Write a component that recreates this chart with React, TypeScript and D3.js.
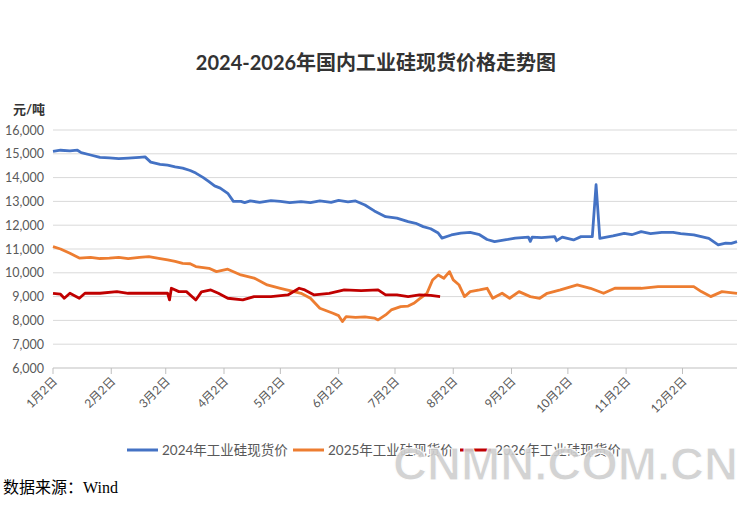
import React from 'react';
import * as d3 from 'd3';

// 2024 series
const dates2024 = [
  '01-02', '01-06', '01-11', '01-15', '01-17', '01-22', '01-27', '02-01', '02-06', '02-11',
  '02-17', '02-20', '02-23', '02-28', '03-03', '03-07', '03-11', '03-15', '03-18', '03-22',
  '03-25', '03-28', '03-31', '04-04', '04-07', '04-11', '04-13', '04-16', '04-21', '04-27',
  '05-02', '05-07', '05-13', '05-18', '05-23', '05-29', '06-02', '06-07', '06-11', '06-16',
  '06-21', '06-27', '07-03', '07-09', '07-13', '07-17', '07-21', '07-25', '07-27', '08-01',
  '08-06', '08-11', '08-16', '08-20', '08-24', '08-31', '09-04', '09-11', '09-12', '09-13',
  '09-18', '09-25', '09-26', '09-29', '10-05', '10-09', '10-15', '10-17', '10-19', '10-26',
  '11-01', '11-05', '11-10', '11-15', '11-21', '11-27', '12-01', '12-08', '12-12', '12-16',
  '12-21', '12-25', '12-28', '12-31',
];
const price2024 = [
  15100, 15150, 15120, 15150, 15050, 14950, 14850, 14830, 14800, 14820,
  14850, 14870, 14650, 14560, 14520, 14450, 14400, 14300, 14190, 14000,
  13830, 13650, 13560, 13340, 13000, 13000, 12950, 13020, 12960, 13030,
  13000, 12950, 12990, 12950, 13020, 12960, 13040, 12980, 13020, 12850,
  12600, 12360, 12300, 12150, 12080, 11940, 11850, 11670, 11460, 11590,
  11670, 11700, 11600, 11400, 11310, 11400, 11460, 11500, 11320, 11500,
  11480, 11520, 11350, 11500, 11380, 11520, 11520, 13700, 11450, 11550,
  11660, 11600, 11730, 11650, 11700, 11700, 11650, 11590, 11520, 11450,
  11170, 11250, 11240, 11310,
];

// 2025 series
const dates2025 = [
  '01-02', '01-06', '01-11', '01-16', '01-22', '01-27', '02-01', '02-06', '02-11', '02-17',
  '02-22', '02-28', '03-03', '03-07', '03-11', '03-15', '03-18', '03-22', '03-25', '03-29',
  '04-04', '04-11', '04-18', '04-25', '05-02', '05-07', '05-13', '05-18', '05-23', '05-30',
  '06-02', '06-04', '06-06', '06-11', '06-16', '06-21', '06-23', '06-27', '06-30', '07-05',
  '07-09', '07-12', '07-15', '07-19', '07-22', '07-25', '07-28', '07-31', '08-02', '08-05',
  '08-08', '08-11', '08-16', '08-20', '08-23', '08-28', '09-01', '09-06', '09-12', '09-17',
  '09-21', '09-28', '10-07', '10-14', '10-21', '10-27', '11-10', '11-19', '12-08', '12-12',
  '12-17', '12-23', '12-31',
];
const price2025 = [
  11100, 11000, 10820, 10620, 10650, 10600, 10620, 10650, 10600, 10650,
  10680, 10600, 10540, 10480, 10400, 10380, 10260, 10220, 10190, 10050,
  10150, 9910, 9780, 9490, 9350, 9250, 9140, 8930, 8510, 8300,
  8200, 7950, 8160, 8130, 8150, 8100, 8020, 8230, 8440, 8580,
  8600, 8720, 8900, 9140, 9700, 9910, 9770, 10050, 9700, 9500,
  9000, 9210, 9280, 9350, 8930, 9140, 8930, 9210, 9000, 8930,
  9140, 9280, 9490, 9350, 9140, 9350, 9350, 9420, 9420, 9210,
  9000, 9210, 9140,
];

// 2026 series
const dates2026 = [
  '01-02', '01-06', '01-08', '01-11', '01-16', '01-19', '01-27', '02-05', '02-11', '03-03',
  '03-04', '03-05', '03-09', '03-13', '03-18', '03-21', '03-26', '03-30', '04-04', '04-12',
  '04-18', '04-27', '05-06', '05-12', '05-15', '05-20', '05-28', '06-05', '06-14', '06-23',
  '06-27', '07-03', '07-09', '07-15', '07-21', '07-26',
];
const price2026 = [
  9140, 9100, 8930, 9140, 8930, 9140, 9140, 9210, 9140, 9140,
  8860, 9350, 9210, 9210, 8860, 9200, 9280, 9140, 8930, 8860,
  9000, 9000, 9070, 9350, 9280, 9070, 9140, 9280, 9250, 9280,
  9070, 9070, 9000, 9070, 9050, 9000,
];

const monthTicks = ['01-02', '02-02', '03-02', '04-02', '05-02', '06-02', '07-02', '08-02', '09-02', '10-02', '11-02', '12-02'];
const monthLabels = ['1月2日', '2月2日', '3月2日', '4月2日', '5月2日', '6月2日', '7月2日', '8月2日', '9月2日', '10月2日', '11月2日', '12月2日'];
const yTicks = [6000, 7000, 8000, 9000, 10000, 11000, 12000, 13000, 14000, 15000, 16000];
const seriesNames = ['2024年工业硅现货价', '2025年工业硅现货价', '2026年工业硅现货价'];
const seriesColors = ['#4472C4', '#ED7D31', '#C00000'];

const toDate = (md: string) => new Date(`2024-${md}T00:00:00`);

const W = 739;
const H = 514;
const margin = { top: 130, right: 2, bottom: 146, left: 53 };

const App = () => {
  const x = d3
    .scaleTime()
    .domain([toDate('01-02'), toDate('12-31')])
    .range([margin.left, W - margin.right]);
  const y = d3
    .scaleLinear()
    .domain([6000, 16000])
    .range([H - margin.bottom, margin.top]);

  const line = d3
    .line<[string, number]>()
    .x((d) => x(toDate(d[0])))
    .y((d) => y(d[1]));

  const series = [
    d3.zip(dates2024, price2024),
    d3.zip(dates2025, price2025),
    d3.zip(dates2026, price2026),
  ] as [string, number][][];

  const font = "Lato, 'Noto Sans CJK SC', sans-serif";
  const legendX = [127, 293, 460];

  return (
    <svg
      width={W}
      height={H}
      style={{ position: 'absolute', left: 0, top: 0, background: '#fff' }}
    >
      <text x={376} y={70} textAnchor="middle" fontFamily={font} fontWeight="bold" fontSize={20} fill="#333">
        2024-2026年国内工业硅现货价格走势图
      </text>
      <text x={13} y={114} fontFamily={font} fontWeight="bold" fontSize={13} fill="#333">
        元/吨
      </text>

      {/* grid + y labels */}
      {yTicks.map((t) => (
        <g key={t}>
          {t > 6000 && (
            <line x1={margin.left} x2={W - margin.right} y1={y(t)} y2={y(t)} stroke="#d9d9d9" strokeWidth={1} />
          )}
          <text x={44} y={y(t) + 4.5} textAnchor="end" fontFamily={font} fontSize={12.5} fill="#595959">
            {d3.format(',')(t)}
          </text>
        </g>
      ))}

      {/* x axis */}
      <line x1={margin.left} x2={W - margin.right} y1={y(6000)} y2={y(6000)} stroke="#bfbfbf" strokeWidth={1} />
      {monthTicks.map((m, i) => {
        const tx = x(toDate(m));
        return (
          <g key={m}>
            <line x1={tx} x2={tx} y1={y(6000)} y2={y(6000) + 6} stroke="#bfbfbf" strokeWidth={1} />
            <text
              transform={`translate(${tx + 5},${y(6000) + 14}) rotate(-45)`}
              textAnchor="end"
              fontFamily={font}
              fontSize={12}
              fill="#595959"
            >
              {monthLabels[i]}
            </text>
          </g>
        );
      })}

      {/* lines */}
      {series.map((s, i) => (
        <path
          key={i}
          d={line(s) || ''}
          fill="none"
          stroke={seriesColors[i]}
          strokeWidth={2.8}
          strokeLinejoin="round"
        />
      ))}

      {/* legend */}
      {seriesNames.map((n, i) => (
        <g key={n}>
          <line x1={legendX[i]} x2={legendX[i] + 31} y1={450} y2={450} stroke={seriesColors[i]} strokeWidth={3} />
          <text x={legendX[i] + 35} y={455} fontFamily={font} fontSize={13.5} fill="#595959">
            {n}
          </text>
        </g>
      ))}

      {/* watermark */}
      <text
        x={393}
        y={480}
        textLength={345}
        lengthAdjust="spacingAndGlyphs"
        fontFamily="'Liberation Sans', Arial, sans-serif"
        fontWeight="bold"
        fontSize={46}
        fill="#cfcfcf"
        stroke="#fff"
        strokeWidth={1}
        opacity={0.9}
      >
        CNMN.COM.CN
      </text>

      <text x={3} y={493} fontFamily="'Liberation Serif', 'Noto Sans CJK SC', serif" fontSize={16} fill="#000">
        数据来源：Wind
      </text>
    </svg>
  );
};

export default App;
